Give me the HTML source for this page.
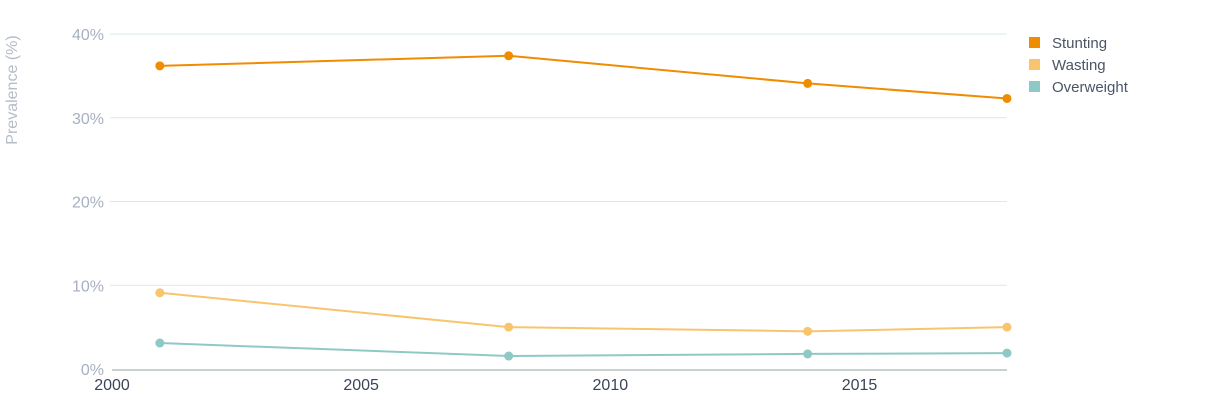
<!DOCTYPE html>
<html><head><meta charset="utf-8"><style>
body{margin:0;background:#fff;font-family:"Liberation Sans",sans-serif}
svg text{font-family:"Liberation Sans",sans-serif}
</style></head><body>
<svg id="chart" width="1230" height="403" xmlns="http://www.w3.org/2000/svg">
<g id="grid"></g><g id="axes"></g><g id="series"></g>
<g font-size="15" fill="#4a5568">
 <g><rect x="1029" y="37" width="11" height="11" fill="#f08c00"/><text x="1052" y="48">Stunting</text></g>
 <g><rect x="1029" y="59" width="11" height="11" fill="#f9c46e"/><text x="1052" y="70">Wasting</text></g>
 <g><rect x="1029" y="81" width="11" height="11" fill="#8ec9c6"/><text x="1052" y="92">Overweight</text></g>
</g>
<text transform="translate(17,90) rotate(-90)" text-anchor="middle" font-size="16" fill="#b4bcc8">Prevalence (%)</text>
</svg>
<script>
const years=[2001,2008,2014,2018];
const stunting=[36.2,37.4,34.1,32.3];
const wasting=[9.1,5.0,4.5,5.0];
const overweight=[3.1,1.55,1.8,1.9];
const yTicks=[0,10,20,30,40];
const xTicks=[2000,2005,2010,2015];
const NS="http://www.w3.org/2000/svg";
const x=v=>110+(v-2000)*(1007-110)/18;
const y=v=>369-v*8.375;
function mk(t,a,p){const e=document.createElementNS(NS,t);for(const k in a)e.setAttribute(k,a[k]);p.appendChild(e);return e;}
const grid=document.getElementById('grid'),axes=document.getElementById('axes'),ser=document.getElementById('series');
yTicks.forEach(t=>{
 if(t>0){const l=mk('line',{x1:110,x2:1007,y1:y(t),y2:y(t),stroke:'#d8eaea','stroke-width':1},grid);
 
 }
 const tx=mk('text',{x:104,y:y(t)+6,'text-anchor':'end','font-size':16,fill:'#a7b0c0'},axes);tx.textContent=t+'%';
 
 
});
const ax=mk('line',{x1:112,x2:1007,y1:370,y2:370,stroke:'#b5c4c0','stroke-width':1.5},axes);


xTicks.forEach(t=>{const tx=mk('text',{x:x(t)+2,y:390,'text-anchor':'middle','font-size':16,fill:'#3a4658'},axes);tx.textContent=t;
 
 });
[['stunting',stunting,'#f08c00'],['wasting',wasting,'#f9c46e'],['overweight',overweight,'#8ec9c6']].forEach(([n,d,c])=>{
 const p=mk('polyline',{points:years.map((yr,i)=>x(yr)+','+y(d[i])).join(' '),fill:'none',stroke:c,'stroke-width':2},ser);
 
 
 years.forEach((yr,i)=>{const ci=mk('circle',{cx:x(yr),cy:y(d[i]),r:4.5,fill:c},ser);
  
  });
});
</script>
</body></html>
